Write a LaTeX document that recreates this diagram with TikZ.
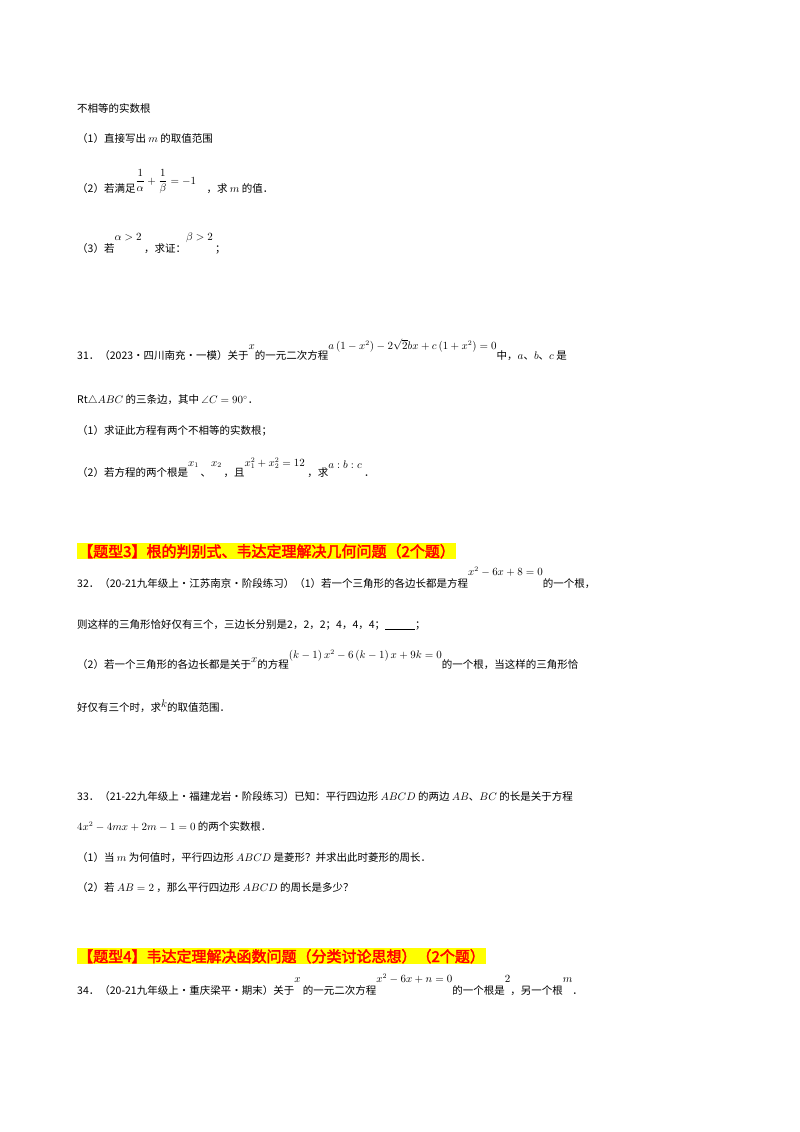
\documentclass[tikz,border=0pt]{standalone}
\usepackage{amsmath}
\usepackage{fontspec}
\usepackage{amssymb}
\setmainfont{Noto Sans CJK SC}[AutoFakeBold=2.5]
\definecolor{hred}{RGB}{255,0,0}
\definecolor{hyel}{RGB}{255,255,0}
\newcommand{\up}[2]{\raisebox{#1pt}{#2}}
\begin{document}
\begin{tikzpicture}[x=1pt,y=-1pt,
  txt/.style={anchor=base west,inner sep=0pt,font=\fontsize{10.5}{12}\selectfont},
  hdr/.style={anchor=base west,inner sep=1pt,fill=hyel,text=hred,font=\fontsize{15}{17}\selectfont\bfseries}]
\useasboundingbox[fill=white] (0,0) rectangle (800,1132);
\node[txt] (l1) at (77,112) {不相等的实数根};
\node[txt] (l2) at (77,142) {（1）直接写出 $m$ 的取值范围};
\node[txt] (l3) at (77,192) {（2）若满足\up{8}{$\dfrac{1}{\alpha}+\dfrac{1}{\beta}=-1$}\quad ，求 $m$ 的值．};
\node[txt] (l4) at (77,252) {（3）若\up{12}{$\alpha>2$}\ ，求证：\up{12}{$\beta>2$}\ ；};
\node[txt] (l5) at (77,359) {31．（2023·四川南充·一模）关于\up{10}{$x$}的一元二次方程\up{10}{$a\left(1-x^{2}\right)-2\sqrt{2}bx+c\left(1+x^{2}\right)=0$}中，$a$、$b$、$c$ 是};
\node[txt] (l6) at (77,403) {$\mathrm{Rt}\triangle ABC$ 的三条边，其中 $\angle C=90^\circ$．};
\node[txt] (l7) at (77,434) {（1）求证此方程有两个不相等的实数根；};
\node[txt] (l8) at (77,476) {（2）若方程的两个根是\up{10}{$x_1$}\,、\up{10}{$x_2$}\,，且\up{10}{$x_1^2+x_2^2=12$}\ ，求\up{8}{$a:b:c$}\ ．};
\node[hdr] (h3) at (77,557) {【题型3】根的判别式、韦达定理解决几何问题（2个题）};
\node[txt] (l9) at (77,587) {32．（20-21九年级上·江苏南京·阶段练习）（1）若一个三角形的各边长都是方程\up{12}{$x^2-6x+8=0$}的一个根，};
\node[txt] (l10) at (77,628) {则这样的三角形恰好仅有三个，三边长分别是2，2，2；4，4，4；\underline{\hspace{30pt}}；};
\node[txt] (l11) at (77,668) {（2）若一个三角形的各边长都是关于\up{6}{$x$}的方程\up{10}{$\left(k-1\right)x^2-6\left(k-1\right)x+9k=0$}的一个根，当这样的三角形恰};
\node[txt] (l12) at (77,711) {好仅有三个时，求\up{4}{$k$}的取值范围．};
\node[txt] (l13) at (77,800) {33．（21-22九年级上·福建龙岩·阶段练习）已知：平行四边形 $ABCD$ 的两边 $AB$、$BC$ 的长是关于方程};
\node[txt] (l14) at (77,830) {$4x^2-4mx+2m-1=0$ 的两个实数根．};
\node[txt] (l15) at (77,861) {（1）当 $m$ 为何值时，平行四边形 $ABCD$ 是菱形？并求出此时菱形的周长．};
\node[txt] (l16) at (77,891) {（2）若 $AB=2$ ，那么平行四边形 $ABCD$ 的周长是多少？};
\node[hdr] (h4) at (77,962) {【题型4】韦达定理解决函数问题（分类讨论思想）（2个题）};
\node[txt] (l17) at (77,994) {34．（20-21九年级上·重庆梁平·期末）关于\up{12}{$x$}\ 的一元二次方程\up{12}{$x^2-6x+n=0$}的一个根是\up{12}{$2$}，另一个根\up{12}{$m$}．};
\end{tikzpicture}
\end{document}
